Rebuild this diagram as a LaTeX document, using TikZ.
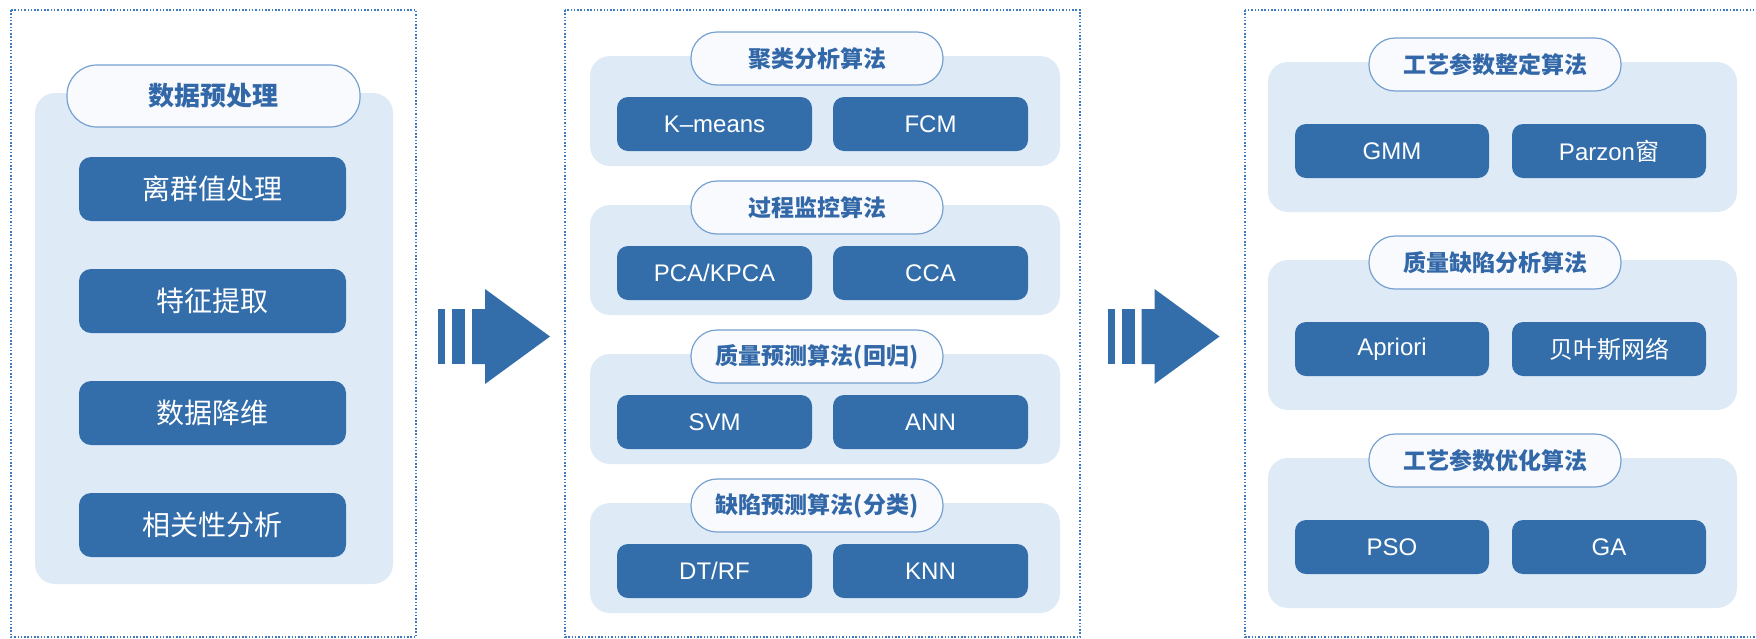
\documentclass[tikz,border=0pt]{standalone}
\usepackage{fontspec}
\setmainfont{Noto Sans CJK SC}
\newfontfamily\lat{Liberation Sans}
\definecolor{boxblue}{RGB}{51,110,171}
\definecolor{panelblue}{RGB}{222,235,247}
\definecolor{pillfill}{RGB}{248,250,253}
\definecolor{pillline}{RGB}{118,160,208}
\definecolor{titleblue}{RGB}{51,104,168}
\definecolor{dotblue}{RGB}{62,122,192}
\tikzset{
  frame/.style={draw=dotblue, line width=1.5pt, dash pattern=on 1.5pt off 1.8pt},
  panel/.style={fill=panelblue, rounded corners=20pt, inner sep=0pt},
  pill/.style={fill=pillfill, draw=pillline, line width=1.2pt, rounded corners=26pt,
    inner sep=0pt, text=titleblue, font=\bfseries\fontsize{23}{26}\selectfont},
  algbox/.style={fill=boxblue, rounded corners=11pt, inner sep=0pt, text=white,
    minimum height=54pt, font=\lat\fontsize{24}{27}\selectfont},
  bigbox/.style={fill=boxblue, rounded corners=12pt, inner sep=0pt, text=white,
    minimum width=267pt, minimum height=64pt, font=\fontsize{28}{32}\selectfont},
  flow/.style={fill=boxblue, draw=none},
}
\begin{document}
\begin{tikzpicture}[x=1pt,y=-1pt]
\useasboundingbox (0,0) rectangle (1756,638);

% dotted frames of the three stages
\draw[frame] (11,10) rectangle (416,637);
\draw[frame] (565,10) rectangle (1080,637);
\draw[frame] (1245,10) rectangle (1762,637);

% stage 1: data preprocessing
\node[panel, minimum width=358pt, minimum height=491pt] (p1) at (214,338.5) {};
\node[pill, minimum width=293pt, minimum height=62pt, rounded corners=30pt,
      font=\bfseries\fontsize{26}{30}\selectfont] (t1) at (213.5,96) {数据预处理};
\node[bigbox] (a1) at (212.5,189) {离群值处理};
\node[bigbox] (a2) at (212.5,301) {特征提取};
\node[bigbox] (a3) at (212.5,413) {数据降维};
\node[bigbox] (a4) at (212.5,525) {相关性分析};

% stage 2: modelling algorithms
\foreach \i/\name/\l/\r in {0/聚类分析算法/K–means/FCM,
                            1/过程监控算法/{PCA/KPCA}/CCA,
                            2/质量预测算法(回归)/SVM/ANN,
                            3/缺陷预测算法(分类)/{DT/RF}/KNN}{
  \pgfmathsetmacro{\dy}{149*\i}
  \node[panel, minimum width=470pt, minimum height=110pt] (mp\i) at (825,111+\dy) {};
  \node[pill, minimum width=252pt, minimum height=53pt] (mt\i) at (817,58.5+\dy) {\name};
  \node[algbox, minimum width=195pt] (ml\i) at (714.5,124+\dy) {\l};
  \node[algbox, minimum width=195pt] (mr\i) at (930.5,124+\dy) {\r};
}

% stage 3: process parameter algorithms
\foreach \j/\name/\l/\r in {0/工艺参数整定算法/GMM/{Parzon{\rmfamily 窗}},
                            1/质量缺陷分析算法/Apriori/{{\rmfamily 贝叶斯网络}},
                            2/工艺参数优化算法/PSO/GA}{
  \pgfmathsetmacro{\dy}{198*\j}
  \node[panel, minimum width=469pt, minimum height=150pt] (rp\j) at (1502.5,137+\dy) {};
  \node[pill, minimum width=252pt, minimum height=53pt] (rt\j) at (1495,64.5+\dy) {\name};
  \node[algbox, minimum width=194pt] (rl\j) at (1392,151+\dy) {\l};
  \node[algbox, minimum width=194pt] (rr\j) at (1609,151+\dy) {\r};
}

% block arrows between the stages
\foreach \sx in {0,669.5}{
  \begin{scope}[xshift=\sx]
    \fill[flow] (438,309) rectangle (445,364);
    \fill[flow] (452,309) rectangle (465,364);
    \fill[flow] (472,309) -- (485,309) -- (485,289) -- (550,336.5)
                -- (485,384) -- (485,364) -- (472,364) -- cycle;
  \end{scope}
}
\end{tikzpicture}
\end{document}
